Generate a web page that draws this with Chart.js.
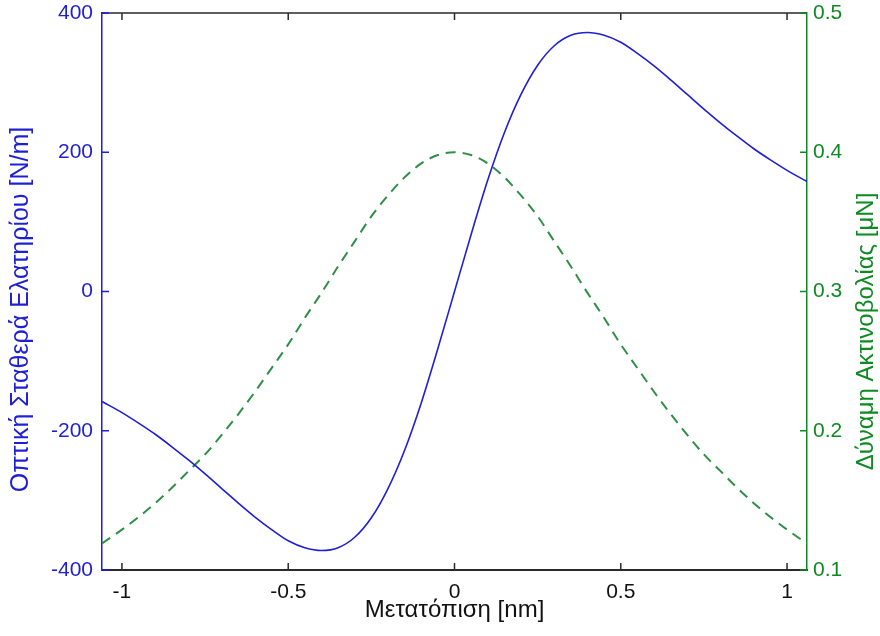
<!DOCTYPE html>
<html lang="el">
<head>
<meta charset="UTF-8">
<title>Οπτική σταθερά ελατηρίου και δύναμη ακτινοβολίας</title>
<style>
  body { margin: 0; background: #fff; }
  #grafima { display: block; }
</style>
</head>
<body>
<canvas id="grafima" width="880" height="636"></canvas>
<script src="https://cdn.jsdelivr.net/npm/chart.js"></script>
<script>
// μετατόπιση (nm)
const metatopisi = [-1.06, -1.00, -0.95, -0.90, -0.85, -0.80, -0.75, -0.70, -0.65, -0.60, -0.55,
  -0.50, -0.45, -0.40, -0.35, -0.30, -0.25, -0.20, -0.15, -0.10, -0.05, 0,
  0.05, 0.10, 0.15, 0.20, 0.25, 0.30, 0.35, 0.40, 0.45, 0.50, 0.55,
  0.60, 0.65, 0.70, 0.75, 0.80, 0.85, 0.90, 0.95, 1.00, 1.06];

// οπτική σταθερά ελατηρίου (N/m), αριστερός άξονας
const stathera = [-158, -174, -189, -205, -223, -242, -262, -283, -304, -324, -342,
  -358, -368, -372, -368, -353, -325, -283, -228, -160, -82, 0,
  82, 160, 228, 283, 325, 353, 368, 372, 368, 358, 342,
  324, 304, 283, 262, 242, 223, 205, 189, 174, 158];

// δύναμη ακτινοβολίας (μN), δεξιός άξονας
const dynami = [0.119, 0.129, 0.138, 0.148, 0.159, 0.171, 0.183, 0.197, 0.212, 0.228, 0.245,
  0.262, 0.281, 0.299, 0.318, 0.336, 0.354, 0.369, 0.382, 0.392, 0.398, 0.400,
  0.398, 0.392, 0.382, 0.369, 0.354, 0.336, 0.318, 0.299, 0.281, 0.262, 0.245,
  0.228, 0.212, 0.197, 0.183, 0.171, 0.159, 0.148, 0.138, 0.129, 0.119];

const xOria = [-1.06, 1.06];
const yOria = [-400, 400];
const y1Oria = [0.1, 0.5];

const titlosX = 'Μετατόπιση [nm]';
const titlosY = 'Οπτική Σταθερά Ελατηρίου [N/m]';
const titlosY1 = 'Δύναμη Ακτινοβολίας [μN]';

const mple = '#1f1fd6';
const prasino = '#0f8a22';
const grammatoseira = '"Liberation Sans", Arial, Helvetica, sans-serif';

// γραμμές πλαισίου, εσωτερικές υποδιαιρέσεις και τίτλοι κάθετων αξόνων
const plaisio = {
  id: 'plaisio',
  afterDraw(chart) {
    const { ctx, chartArea: a, scales } = chart;
    const mikos = 7;
    ctx.save();
    ctx.lineWidth = 1.5;

    ctx.strokeStyle = '#2a2a2a';
    ctx.beginPath();
    ctx.moveTo(a.left, a.top);
    ctx.lineTo(a.right, a.top);
    scales.x.ticks.forEach(t => {
      const px = scales.x.getPixelForValue(t.value);
      ctx.moveTo(px, a.bottom);
      ctx.lineTo(px, a.bottom - mikos);
      ctx.moveTo(px, a.top);
      ctx.lineTo(px, a.top + mikos);
    });
    ctx.stroke();

    ctx.strokeStyle = mple;
    ctx.beginPath();
    scales.y.ticks.forEach(t => {
      const py = scales.y.getPixelForValue(t.value);
      ctx.moveTo(a.left, py);
      ctx.lineTo(a.left + mikos, py);
    });
    ctx.stroke();

    ctx.strokeStyle = prasino;
    ctx.beginPath();
    scales.y1.ticks.forEach(t => {
      const py = scales.y1.getPixelForValue(t.value);
      ctx.moveTo(a.right, py);
      ctx.lineTo(a.right - mikos, py);
    });
    ctx.stroke();

    // και οι δύο τίτλοι διαβάζονται από κάτω προς τα πάνω
    ctx.textAlign = 'center';
    ctx.textBaseline = 'middle';
    const kathetos = (text, color, size, x, y) => {
      ctx.save();
      ctx.fillStyle = color;
      ctx.font = size + 'px ' + grammatoseira;
      ctx.translate(x, y);
      ctx.rotate(-Math.PI / 2);
      ctx.fillText(text, 0, 0);
      ctx.restore();
    };
    const meso = (a.top + a.bottom) / 2;
    kathetos(titlosY, mple, 25, scales.y.left + 21, meso + 18);
    kathetos(titlosY1, prasino, 24, scales.y1.right - 14, meso + 40);
    ctx.restore();
  }
};

// σταθερό πλάτος άξονα, χωρίς επιπλέον περιθώριο πάνω/κάτω για τις ετικέτες
const stathero = platos => s => {
  s.width = platos;
  s.paddingTop = 0;
  s.paddingBottom = 0;
};

new Chart(document.getElementById('grafima'), {
  type: 'line',
  data: {
    datasets: [
      {
        label: titlosY,
        data: metatopisi.map((x, i) => ({ x, y: stathera[i] })),
        yAxisID: 'y',
        borderColor: mple,
        borderWidth: 1.6,
        pointRadius: 0,
        cubicInterpolationMode: 'monotone',
        fill: false
      },
      {
        label: titlosY1,
        data: metatopisi.map((x, i) => ({ x, y: dynami[i] })),
        yAxisID: 'y1',
        borderColor: '#2f8f45',
        borderWidth: 2,
        borderDash: [10, 7],
        pointRadius: 0,
        cubicInterpolationMode: 'monotone',
        fill: false
      }
    ]
  },
  options: {
    responsive: false,
    animation: false,
    layout: { padding: { top: 13, left: 0, right: 0, bottom: 0 } },
    plugins: {
      legend: { display: false },
      tooltip: { enabled: false }
    },
    scales: {
      x: {
        type: 'linear',
        min: xOria[0],
        max: xOria[1],
        grid: { display: false, drawTicks: false },
        border: { color: '#2a2a2a', width: 2 },
        ticks: {
          stepSize: 0.5,
          includeBounds: false,
          padding: 10,
          color: '#111',
          font: { family: grammatoseira, size: 21 },
          callback: v => String(v)
        },
        title: {
          display: true,
          text: titlosX,
          color: '#111',
          font: { family: grammatoseira, size: 24 },
          padding: { top: 0, bottom: 11 }
        },
        afterFit: s => { s.height = 66; }
      },
      y: {
        position: 'left',
        min: yOria[0],
        max: yOria[1],
        grid: { display: false, drawTicks: false },
        border: { color: mple, width: 1.5 },
        ticks: {
          stepSize: 200,
          padding: 9,
          color: mple,
          font: { family: grammatoseira, size: 21 }
        },
        afterFit: stathero(102)
      },
      y1: {
        position: 'right',
        min: y1Oria[0],
        max: y1Oria[1],
        grid: { display: false, drawTicks: false },
        border: { color: prasino, width: 1.5 },
        ticks: {
          stepSize: 0.1,
          padding: 6,
          color: prasino,
          font: { family: grammatoseira, size: 21 },
          callback: v => v.toFixed(1)
        },
        afterFit: stathero(73)
      }
    }
  },
  plugins: [plaisio]
});
</script>
</body>
</html>
